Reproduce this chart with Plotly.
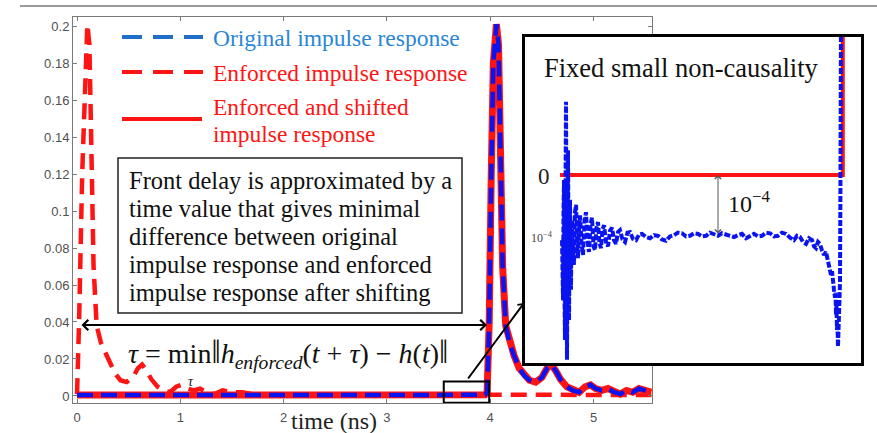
import plotly.graph_objects as go

W, H = 877, 433

# ---------------- data ----------------
# original impulse response h(t)  (also used for the enforced+shifted curve)
t_orig = [0.0, 0.4, 0.8, 1.2, 1.6, 2.0, 2.4, 2.8, 3.2, 3.6, 3.9, 3.95, 3.97, 3.99, 4.01, 4.03,
          4.06, 4.08, 4.10, 4.12, 4.15, 4.19, 4.23, 4.28, 4.33, 4.38, 4.44, 4.50, 4.55,
          4.59, 4.63, 4.68, 4.74, 4.80, 4.86, 4.92, 4.97, 5.02, 5.08, 5.14, 5.20, 5.26,
          5.32, 5.38, 5.44, 5.50, 5.56]
h_orig = [0.0005, 0.0005, 0.0006, 0.0005, 0.0005, 0.0006, 0.0005, 0.0005, 0.0006, 0.0005,
          0.0005, 0.0006, 0.002, 0.04, 0.12, 0.18, 0.201, 0.19, 0.13, 0.07, 0.038, 0.028,
          0.022, 0.015, 0.011, 0.0085, 0.0075, 0.010, 0.015, 0.017, 0.014, 0.009, 0.005,
          0.003, 0.002, 0.005, 0.006, 0.004, 0.003, 0.004, 0.002, 0.001, 0.003, 0.002,
          0.004, 0.003, 0.002]

# enforced impulse response
t_enf = [0.0, 0.02, 0.05, 0.08, 0.10, 0.12, 0.14, 0.16, 0.19, 0.23, 0.27, 0.32, 0.37, 0.42,
         0.48, 0.54, 0.59, 0.63, 0.67, 0.72, 0.78, 0.84, 0.90, 0.96, 1.01, 1.07, 1.13, 1.19,
         1.26, 1.33, 1.41, 1.50, 1.60, 1.70, 1.85, 2.0, 2.5, 3.0, 3.5, 4.0, 4.5, 5.0, 5.56]
h_enf = [0.001, 0.04, 0.12, 0.18, 0.201, 0.19, 0.13, 0.07, 0.038, 0.029, 0.024, 0.018, 0.012,
         0.0085, 0.0075, 0.010, 0.015, 0.017, 0.014, 0.009, 0.005, 0.003, 0.002, 0.005,
         0.006, 0.004, 0.003, 0.004, 0.002, 0.001, 0.003, 0.002, 0.002, 0.001, 0.001,
         0.0005, 0.0005, 0.0005, 0.0005, 0.0005, 0.0005, 0.0005, 0.0005]

# inset: zoom on the front (time in ns, amplitude in units of 1e-4)
t_inset = [3.5729, 3.5736, 3.5743, 3.5750, 3.5757, 3.5764, 3.5771, 3.5779, 3.5786, 3.5793,
           3.5800, 3.5807, 3.5814, 3.5821, 3.5829, 3.5836, 3.5843, 3.5850, 3.5857, 3.5864,
           3.5871, 3.5886, 3.5900, 3.5914, 3.5929, 3.5943, 3.5957, 3.5971, 3.5986, 3.6007,
           3.6029, 3.6050, 3.6071, 3.6093, 3.6114, 3.6136, 3.6157, 3.6179, 3.6200, 3.6221,
           3.6243, 3.6264, 3.6286, 3.6307, 3.6329, 3.6357, 3.6386, 3.6414, 3.6443, 3.6471,
           3.6500, 3.6529, 3.6557, 3.6593, 3.6629, 3.6664, 3.6700, 3.6743, 3.6786, 3.6829,
           3.6871, 3.6929, 3.6986, 3.7043, 3.7100, 3.7157, 3.7214, 3.7271, 3.7329, 3.7386,
           3.7443, 3.7500, 3.7557, 3.7614, 3.7671, 3.7729, 3.7786, 3.7843, 3.7900, 3.7957,
           3.8014, 3.8071, 3.8129, 3.8186, 3.8243, 3.8300, 3.8357, 3.8414, 3.8471, 3.8529,
           3.8586, 3.8643, 3.8700, 3.8757, 3.8814, 3.8871, 3.8929, 3.8986, 3.9043, 3.9086,
           3.9129, 3.9171, 3.9214, 3.9257, 3.9300, 3.9329, 3.9357, 3.9386, 3.9414, 3.9443,
           3.9471, 3.9500, 3.9529, 3.9550, 3.9571, 3.9586, 3.9600, 3.9614, 3.9629, 3.9636,
           3.9643, 3.9650, 3.9657, 3.9664, 3.9671, 3.9686, 3.9700, 3.9707, 3.9714]
h_inset_orig = [-1.05, -1.60, -2.02, -0.60, -0.08, -1.90, -2.66, -0.20, 1.18, -1.10,
                -2.98, -1.50, 0.40, -0.80, -2.34, -1.20, -0.40, -1.60, -1.85, -0.90,
                -0.73, -1.20, -1.45, -0.60, -0.48, -1.00, -1.34, -0.90, -0.65, -1.10,
                -1.29, -0.75, -0.60, -1.05, -1.24, -0.80, -0.69, -1.15, -1.21, -0.85,
                -0.76, -1.10, -1.18, -0.88, -0.81, -1.08, -1.15, -0.90, -0.85, -1.05,
                -1.11, -0.92, -0.89, -1.04, -1.08, -0.93, -0.92, -1.03, -1.05, -0.96,
                -0.95, -1.00, -1.02, -0.97, -0.98, -1.04, -1.06, -0.99, -0.97, -0.93,
                -0.94, -0.99, -0.98, -0.94, -0.95, -0.99, -0.98, -0.93, -0.95, -0.98,
                -0.94, -0.96, -0.98, -1.00, -0.97, -0.95, -1.02, -0.98, -0.95, -0.99,
                -0.98, -0.93, -0.94, -0.99, -0.98, -0.93, -0.95, -1.01, -1.05, -0.98,
                -1.00, -1.08, -1.11, -1.02, -1.05, -1.15, -1.18, -1.08, -1.11, -1.22,
                -1.29, -1.24, -1.40, -1.50, -1.61, -1.55, -1.77, -1.85, -1.98, -1.90,
                -2.26, -2.10, -2.50, -2.40, -2.77, -2.20, -1.74, 0.0, 2.5]
t_inset_enf = [3.570, 3.974, 3.974]
h_inset_enf = [0.0, 0.0, 2.5]

x_ticks = [0, 1, 2, 3, 4, 5]

BLUE = "#0a14f0"
RED = "#ff1414"
SERIF = "Liberation Serif, Times New Roman, serif"
SANS = "Liberation Sans, Arial, sans-serif"


def px(x):
    return x / W


def py(y):
    return 1 - y / H


fig = go.Figure()

# main traces
fig.add_trace(go.Scatter(x=t_orig, y=h_orig, mode="lines", line=dict(color=RED, width=7),
                         xaxis="x", yaxis="y", showlegend=False))
fig.add_trace(go.Scatter(x=t_enf, y=h_enf, mode="lines",
                         line=dict(color=RED, width=4.5, dash="16px,9px"),
                         xaxis="x", yaxis="y", showlegend=False))
fig.add_trace(go.Scatter(x=t_orig, y=h_orig, mode="lines",
                         line=dict(color=BLUE, width=4.5, dash="16px,8px"),
                         xaxis="x", yaxis="y", showlegend=False))

# inset traces
fig.add_trace(go.Scatter(x=t_inset_enf, y=h_inset_enf, mode="lines",
                         line=dict(color=RED, width=4), xaxis="x2", yaxis="y2",
                         showlegend=False))
fig.add_trace(go.Scatter(x=t_inset, y=h_inset_orig, mode="lines",
                         line=dict(color=BLUE, width=4, dash="6px,2px"), xaxis="x2",
                         yaxis="y2", showlegend=False))

axis_common = dict(showgrid=False, zeroline=False, showline=True, mirror="ticks",
                   linecolor="#7a7a7a", linewidth=1, ticks="inside", ticklen=4,
                   tickcolor="#7a7a7a", tickfont=dict(family=SANS, size=13, color="#505050"))

fig.update_layout(
    width=W, height=H,
    margin=dict(l=0, r=0, t=0, b=0),
    paper_bgcolor="white", plot_bgcolor="white",
    showlegend=False,
    xaxis=dict(domain=[px(73), px(652)], range=[-0.039, 5.566], tickvals=x_ticks,
               anchor="y", ticklabelstandoff=2, **axis_common),
    yaxis=dict(domain=[py(403), py(17)], range=[-0.0038, 0.2049], dtick=0.02,
               anchor="x", **axis_common),
    xaxis2=dict(domain=[px(525), px(861)], range=[3.52, 4.0], anchor="y2",
                showgrid=False, zeroline=False, showticklabels=False, ticks="",
                showline=True, mirror=True, linecolor="black", linewidth=2.5),
    yaxis2=dict(domain=[py(363), py(37)], range=[-3.032, 2.226], anchor="x2",
                showgrid=False, zeroline=False, showticklabels=False, ticks="",
                showline=True, mirror=True, linecolor="black", linewidth=2.5),
)

shapes = []
# top separator line
shapes.append(dict(type="line", xref="paper", yref="paper", x0=px(20), x1=1.0,
                   y0=py(6), y1=py(6), line=dict(color="#7a7a7a", width=1.5)))
# legend samples
shapes.append(dict(type="line", xref="paper", yref="paper", x0=px(122), x1=px(203),
                   y0=py(37), y1=py(37), line=dict(color="#1f6fc8", width=4, dash="20px,11px")))
shapes.append(dict(type="line", xref="paper", yref="paper", x0=px(122), x1=px(203),
                   y0=py(72), y1=py(72), line=dict(color=RED, width=4, dash="20px,11px")))
shapes.append(dict(type="line", xref="paper", yref="paper", x0=px(122), x1=px(202),
                   y0=py(119), y1=py(119), line=dict(color=RED, width=4)))
# text box
shapes.append(dict(type="rect", xref="paper", yref="paper", x0=px(118), x1=px(462),
                   y0=py(313), y1=py(158), line=dict(color="#222", width=1.5),
                   fillcolor="white", layer="below"))
# zoom rectangle on main plot
shapes.append(dict(type="rect", xref="x", yref="y", x0=3.55, x1=3.99, y0=-0.0036, y1=0.0078,
                   line=dict(color="black", width=2)))
fig.update_layout(shapes=shapes)

ann = []
# legend texts
ann.append(dict(x=px(211), y=py(38), text="Original impulse response", xanchor="left",
                font=dict(family=SERIF, size=23.5, color="#2a86d6")))
ann.append(dict(x=px(211), y=py(73), text="Enforced impulse response", xanchor="left",
                font=dict(family=SERIF, size=23.5, color=RED)))
ann.append(dict(x=px(211), y=py(107), text="Enforced and shifted", xanchor="left",
                font=dict(family=SERIF, size=23.5, color=RED)))
ann.append(dict(x=px(211), y=py(134), text="impulse response", xanchor="left",
                font=dict(family=SERIF, size=23.5, color=RED)))
# text box lines
box_lines = ["Front delay is approximated by a",
             "time value that gives minimal",
             "difference between original",
             "impulse response and enforced",
             "impulse response after shifting"]
for i, s in enumerate(box_lines):
    ann.append(dict(x=px(127), y=py(180 + 28 * i), text=s, xanchor="left",
                    font=dict(family=SERIF, size=24.5, color="#111")))
# formula
ann.append(dict(x=px(126), y=py(353), xanchor="left",
                text=("<i>τ</i> = min<span style='font-size:33px'>‖</span><i>h</i>"
                      "<sub><i>enforced</i></sub>(<i>t</i> + <i>τ</i>) − <i>h</i>(<i>t</i>)"
                      "<span style='font-size:33px'>‖</span>"),
                font=dict(family=SERIF, size=28, color="#111")))
ann.append(dict(x=px(191), y=py(381), text="<i>τ</i>",
                font=dict(family=SERIF, size=14, color="#111")))
# x axis title
ann.append(dict(x=px(334), y=py(421), text="time (ns)",
                font=dict(family=SERIF, size=24, color="#222")))
# horizontal double arrow (front delay)
ann.append(dict(x=px(487), y=py(325), ax=-407, ay=0, text="", showarrow=True,
                arrowhead=4, startarrowhead=4, arrowside="end+start", arrowwidth=2,
                arrowsize=1, startarrowsize=1, arrowcolor="black"))
# line from zoom rectangle to inset
ann.append(dict(x=px(524), y=py(303), ax=-57, ay=77, text="", showarrow=True,
                arrowhead=4, arrowwidth=2, arrowsize=0.8, arrowcolor="black"))
# inset texts
ann.append(dict(x=px(681), y=py(68), text="Fixed small non-causality",
                font=dict(family=SERIF, size=26.5, color="#111")))
ann.append(dict(x=px(544), y=py(176), text="0",
                font=dict(family=SERIF, size=23, color="#222")))
ann.append(dict(x=px(542), y=py(237), text="10<sup>−4</sup>",
                font=dict(family=SERIF, size=12, color="#444")))
ann.append(dict(x=px(726), y=py(202), text="10<sup>−4</sup>", xanchor="left",
                font=dict(family=SERIF, size=24, color="#111")))
ann.append(dict(x=px(718), y=py(175), ax=0, ay=60, text="", showarrow=True,
                arrowhead=4, startarrowhead=4, arrowside="end+start", arrowwidth=1,
                arrowsize=1.2, startarrowsize=1.2, arrowcolor="#555"))
for a in ann:
    a.setdefault("xref", "paper")
    a.setdefault("yref", "paper")
    a.setdefault("showarrow", False)
    a.setdefault("xanchor", "center")
    a.setdefault("yanchor", "middle")
fig.update_layout(annotations=ann)

fig.write_html("out.html")
